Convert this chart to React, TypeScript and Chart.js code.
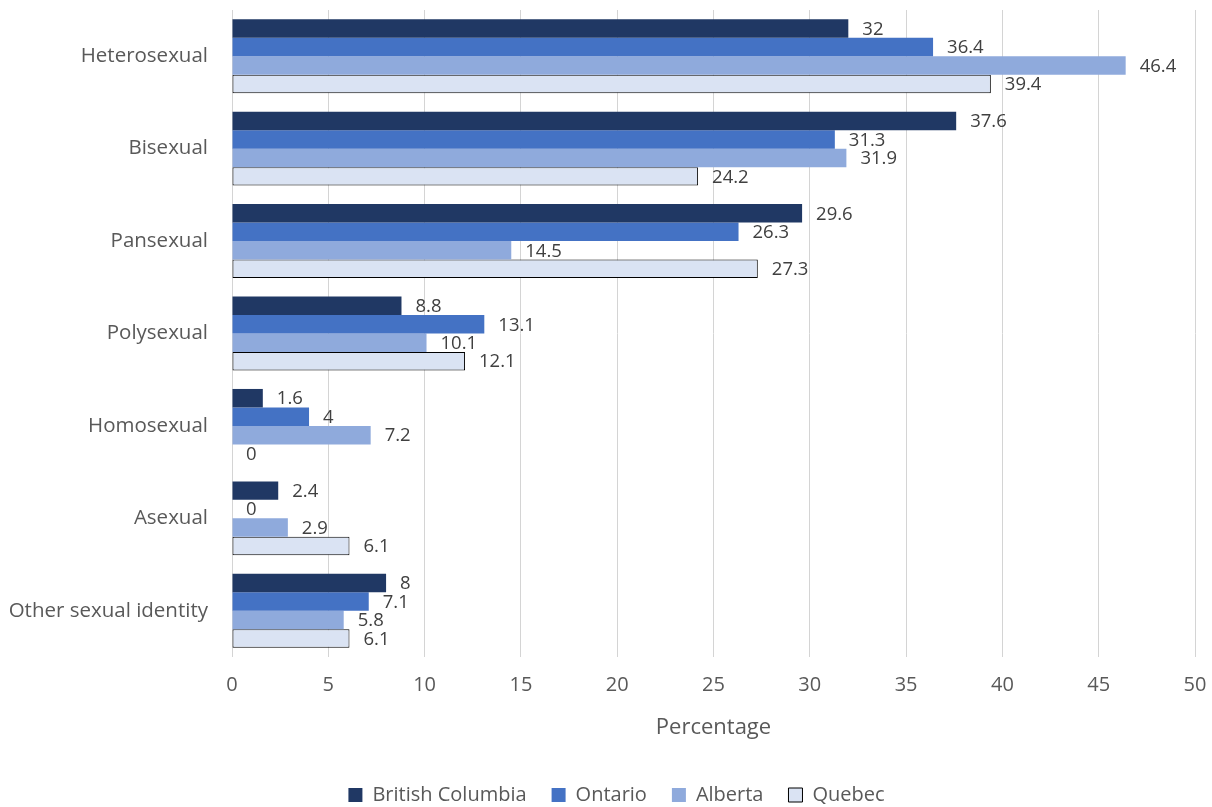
import React, { useEffect, useRef } from "react";
import { Chart, registerables } from "chart.js";

Chart.register(...registerables);

const categories = [
  "Heterosexual",
  "Bisexual",
  "Pansexual",
  "Polysexual",
  "Homosexual",
  "Asexual",
  "Other sexual identity",
];
const britishColumbia = [32, 37.6, 29.6, 8.8, 1.6, 2.4, 8];
const ontario = [36.4, 31.3, 26.3, 13.1, 4, 0, 7.1];
const alberta = [46.4, 31.9, 14.5, 10.1, 7.2, 2.9, 5.8];
const quebec = [39.4, 24.2, 27.3, 12.1, 0, 6.1, 6.1];
const xTicks = [0, 5, 10, 15, 20, 25, 30, 35, 40, 45, 50];

const FONT = "'Open Sans', sans-serif";
const TEXT = "#595959";

const valueLabels = {
  id: "valueLabels",
  afterDatasetsDraw(chart: any) {
    const ctx = chart.ctx;
    ctx.save();
    ctx.font = `18.5px ${FONT}`;
    ctx.fillStyle = "#404040";
    ctx.textAlign = "left";
    ctx.textBaseline = "middle";
    chart.data.datasets.forEach((ds: any, di: number) => {
      const meta = chart.getDatasetMeta(di);
      meta.data.forEach((bar: any, i: number) => {
        const v = ds.data[i];
        ctx.fillText(String(v), bar.x + 14, bar.y + 1);
      });
    });
    ctx.restore();
  },
};

const legendShift = {
  id: "legendShift",
  afterLayout(chart: any) {
    const lg = chart.legend;
    if (lg) {
      lg.left += 19;
      lg.right += 19;
    }
  },
};

export default function App() {
  const ref = useRef<HTMLCanvasElement>(null);
  useEffect(() => {
    if (!ref.current) return;
    const chart = new Chart(ref.current, {
      type: "bar",
      data: {
        labels: categories,
        datasets: [
          { label: "British Columbia", data: britishColumbia, backgroundColor: "#203864", borderWidth: 0 },
          { label: "Ontario", data: ontario, backgroundColor: "#4472c4", borderWidth: 0 },
          { label: "Alberta", data: alberta, backgroundColor: "#8faadc", borderWidth: 0 },
          { label: "Quebec", data: quebec, backgroundColor: "#dae3f3", borderColor: "#000000", borderWidth: 1, borderSkipped: false },
        ],
      },
      plugins: [valueLabels, legendShift],
      options: {
        indexAxis: "y",
        animation: false,
        responsive: false,
        maintainAspectRatio: false,
        datasets: { bar: { barPercentage: 1, categoryPercentage: 0.8 } },
        layout: { padding: { top: 10, right: 17, left: 0, bottom: -8 } },
        scales: {
          x: {
            min: 0,
            max: 50,
            afterBuildTicks: (scale: any) => {
              scale.ticks = xTicks.map((v) => ({ value: v }));
            },
            afterFit: (scale: any) => {
              scale.height = 103;
              scale.paddingLeft = 0;
              scale.paddingRight = 0;
            },
            grid: { color: "#d4d4d4", lineWidth: 1, drawTicks: false },
            border: { display: false },
            ticks: { color: TEXT, font: { family: FONT, size: 20 }, padding: 16 },
            title: { display: true, text: "Percentage", color: TEXT, font: { family: FONT, size: 22 }, padding: { top: 4, bottom: 19 } },
          },
          y: {
            afterFit: (scale: any) => {
              scale.width = 232;
              scale.paddingTop = 0;
              scale.paddingBottom = 0;
            },
            grid: { display: false },
            border: { display: false },
            ticks: { color: TEXT, font: { family: FONT, size: 20.5 }, padding: 16 },
          },
        },
        plugins: {
          legend: {
            position: "bottom",
            labels: {
              color: TEXT,
              font: { family: FONT, size: 20 },
              boxWidth: 14,
              boxHeight: 14,
              padding: 25,
            },
          },
          tooltip: { enabled: false },
        },
      },
    });
    return () => chart.destroy();
  }, []);
  return (
    <div style={{ position: "fixed", left: 0, top: 0, width: 1212, height: 807, background: "#fff" }}>
      <canvas ref={ref} width={1212} height={807} />
    </div>
  );
}
